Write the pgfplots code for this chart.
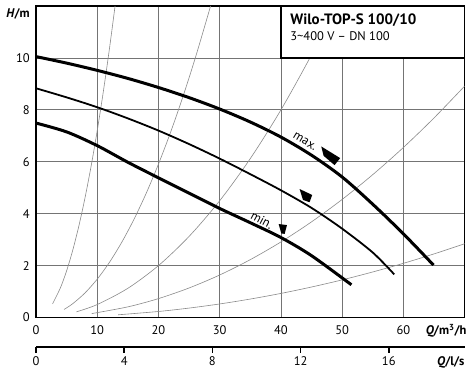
\documentclass[border=0pt]{standalone}
\usepackage{fontspec}
\setmainfont{PT Sans}
\usepackage{pgfplots}
\pgfplotsset{compat=1.18}
\definecolor{gridc}{HTML}{747474}
\definecolor{sysc}{HTML}{8A8A8A}
\begin{document}
\begin{tikzpicture}[font=\fontsize{12.5bp}{15bp}\selectfont]
\useasboundingbox (0,0) rectangle (474bp,372bp);
\begin{axis}[
  at={(36bp,54.5bp)}, anchor=south west, scale only axis,
  width=428.7bp, height=311.5bp,
  xmin=0, xmax=70, ymin=0, ymax=12,
  xtick={0,10,...,60}, ytick={0,2,...,10},
  grid=major, major grid style={gridc, line width=0.7bp},
  major tick length=0pt,
  axis line style={line width=1.6bp, black},
  /pgf/number format/assume math mode=true,
  xticklabel style={anchor=base, yshift=-17.3bp},
  yticklabel style={anchor=east, inner sep=0pt, xshift=-6bp},
  clip mode=individual,
]
% system curves
\addplot[sysc, line width=0.6bp, smooth] coordinates {(2.7,0.525)(4,1.152)(5,1.8)(6,2.592)(7,3.528)(8,4.608)(9,5.832)(10,7.2)(11,8.712)(12,10.368)(12.91,12.0)};
\addplot[sysc, line width=0.6bp, smooth] coordinates {(4.57,0.309)(6,0.532)(8,0.946)(10,1.478)(12,2.128)(14,2.897)(16,3.784)(18,4.789)(20,5.912)(22,7.153)(24,8.513)(26,9.991)(28,11.587)(28.5,12.0)};
\addplot[sysc, line width=0.6bp, smooth] coordinates {(6.6,0.218)(10,0.5)(15,1.125)(20,2)(25,3.125)(30,4.5)(35,6.125)(40,8)(45,10.125)(49,12.0)};
\addplot[sysc, line width=0.6bp, smooth] coordinates {(9.1,0.151)(15,0.41)(20,0.728)(25,1.138)(30,1.638)(35,2.23)(40,2.912)(45,3.686)(50,4.55)(55,5.506)(60,6.552)(65,7.69)(70,8.918)};
\addplot[sysc, line width=0.6bp, smooth] coordinates {(13.4,0.104)(20,0.232)(25,0.363)(30,0.522)(35,0.711)(40,0.928)(45,1.175)(50,1.45)(55,1.755)(60,2.088)(65,2.451)(70,2.842)};
% pump curves
\addplot[black, line width=3bp, smooth] coordinates {(0,10.05)(5,9.8)(10,9.52)(15,9.21)(20,8.86)(25,8.47)(30,8.03)(35,7.53)(40,6.95)(45,6.25)(50,5.41)(55,4.36)(60,3.22)(64.9,2.02)};
\addplot[black, line width=1.8bp, smooth] coordinates {(0,8.83)(5,8.48)(10,8.1)(15,7.67)(20,7.2)(25,6.68)(30,6.12)(35,5.52)(40,4.9)(45,4.22)(50,3.42)(55,2.5)(58.5,1.66)};
\addplot[black, line width=3bp, smooth] coordinates {(0,7.49)(5,7.15)(10,6.62)(15,5.98)(20,5.38)(25,4.79)(30,4.2)(35,3.65)(40,3.08)(45,2.38)(51.5,1.26)};
% markers
\addplot[fill=black, draw=none] coordinates {(46.58,6.59)(49.67,6.14)(48.75,5.87)(46.96,6.23)} -- cycle;
\addplot[fill=black, draw=none] coordinates {(43.04,4.95)(45.1,4.72)(44.67,4.44)(43.59,4.53)} -- cycle;
\addplot[fill=black, draw=none] coordinates {(39.62,3.60)(40.98,3.56)(40.6,3.22)(40.05,3.24)} -- cycle;
\node[rotate=-31, inner sep=0pt] at (axis cs:43.9,6.78) {max.};
\node[rotate=-28, inner sep=0pt] at (axis cs:36.9,3.75) {min.};
% title box
\draw[fill=white, line width=1.6bp] (axis cs:40,10) rectangle (axis cs:70,12);
\node[anchor=west, inner sep=0pt, font=\fontsize{15bp}{18bp}\selectfont\bfseries] at (axis cs:41.5,11.47) {Wilo-TOP-S 100/10};
\node[anchor=west, inner sep=0pt] at (axis cs:41.5,10.83) {3\textasciitilde400 V – DN 100};
% axis labels
\node[anchor=east, inner sep=0pt, xshift=-6bp, font=\fontsize{12.5bp}{15bp}\selectfont\bfseries] at (axis cs:0,11.7) {\textit{H}/m};
\node[anchor=base east, inner sep=0pt, xshift=2bp, yshift=-17.3bp, font=\fontsize{12.5bp}{15bp}\selectfont\bfseries] at (axis cs:70,0) {\textit{Q}/m\textsuperscript{3}/h};
\end{axis}
\begin{axis}[
  at={(36bp,25.3bp)}, anchor=south west, scale only axis,
  width=428.7bp, height=10bp,
  xmin=0, xmax=19.4444, ymin=0, ymax=1,
  axis x line=bottom, axis y line=none,
  xtick={0,4,8,12,16},
  tick align=outside, major tick length=6bp,
  x tick style={line width=1.6bp, black},
  axis line style={line width=1.6bp, black, -},
  /pgf/number format/assume math mode=true,
  xticklabel style={anchor=base, yshift=-13bp},
  clip mode=individual,
]
\node[anchor=base east, inner sep=0pt, yshift=-19bp, font=\fontsize{12.5bp}{15bp}\selectfont\bfseries] at (axis cs:19.4444,0) {\textit{Q}/l/s};
\end{axis}
\end{tikzpicture}
\end{document}
